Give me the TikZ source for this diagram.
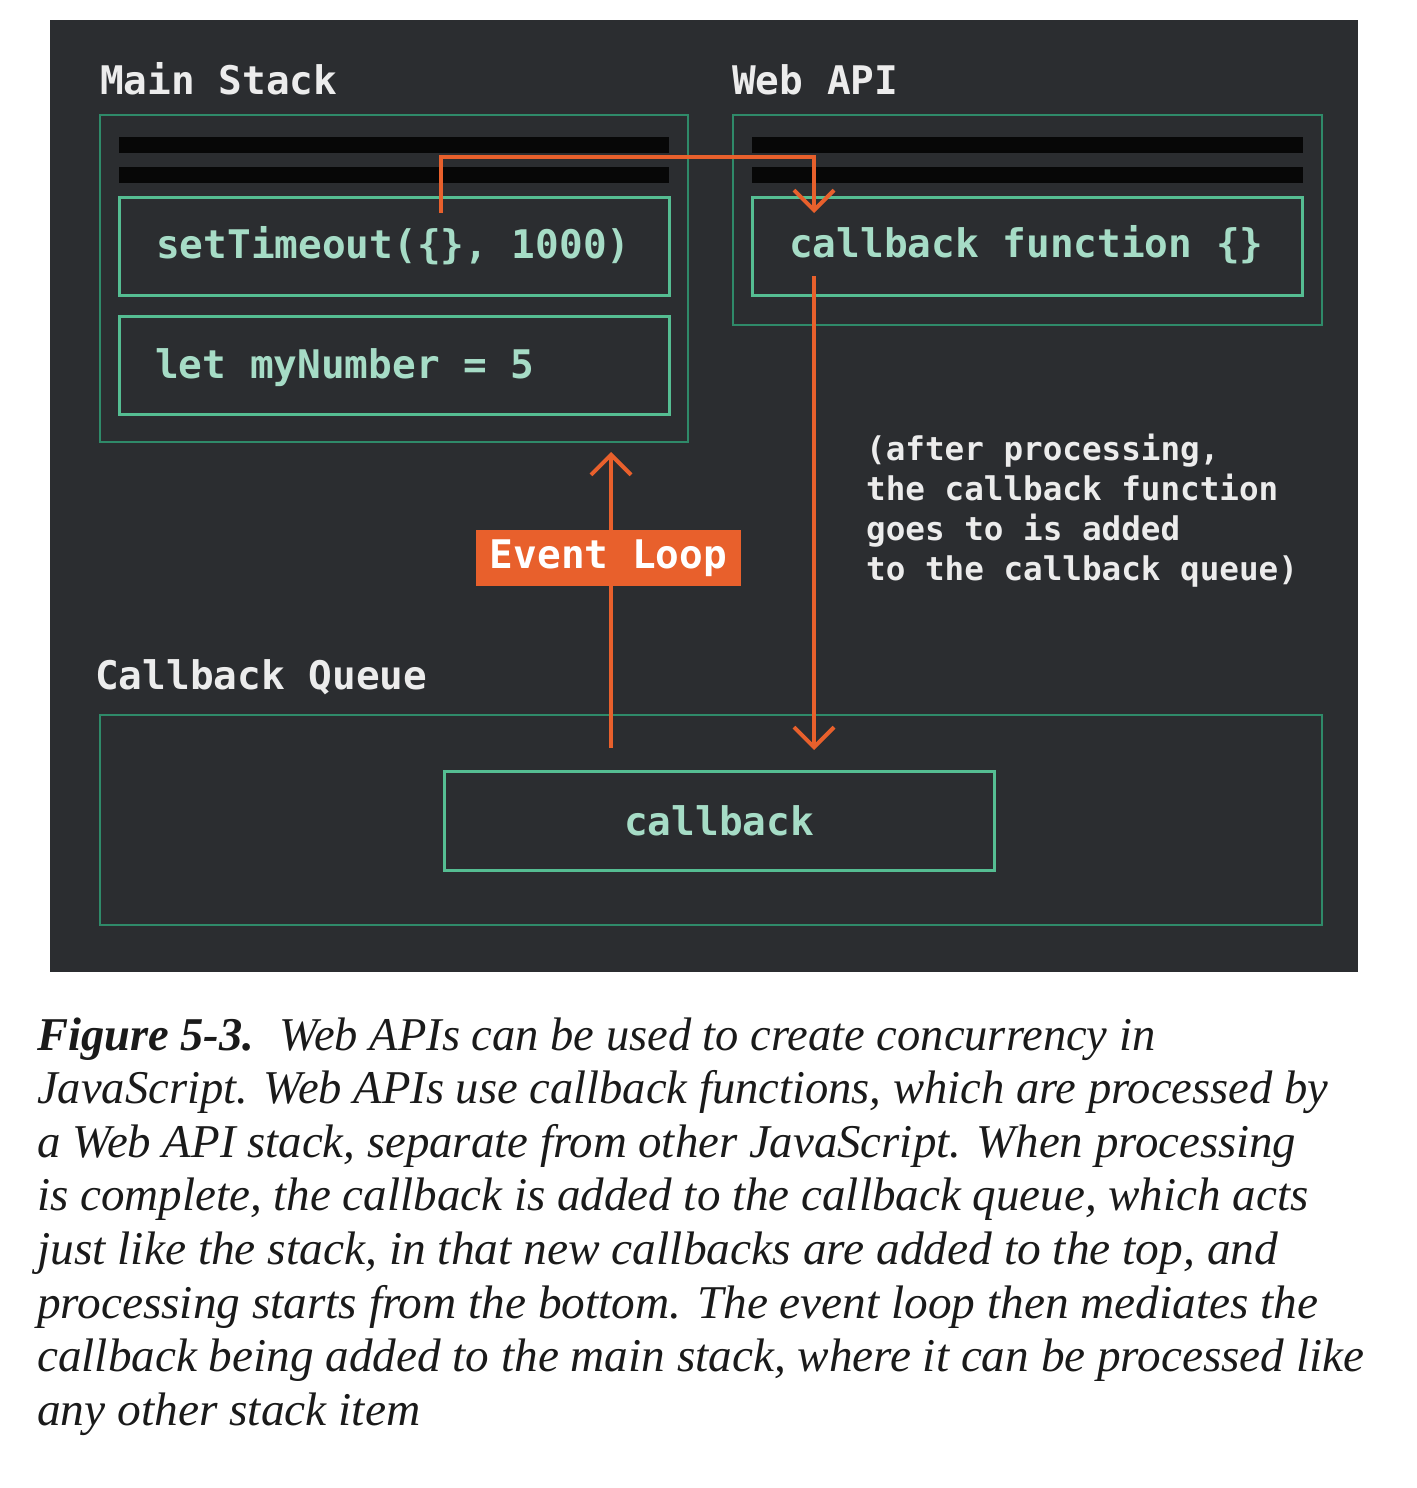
\documentclass[tikz,border=0pt]{standalone}
\usepackage{fontspec}
\setmainfont{Liberation Serif}
\setmonofont{DejaVu Sans Mono}
\usetikzlibrary{arrows.meta}
\definecolor{panel}{HTML}{2B2D30}
\definecolor{outergreen}{HTML}{2F8A69}
\definecolor{innergreen}{HTML}{55BD92}
\definecolor{mint}{HTML}{A6DCC6}
\definecolor{titlewhite}{HTML}{ECECEC}
\definecolor{accent}{HTML}{E8602C}
\definecolor{barblack}{HTML}{070707}
\definecolor{captionink}{HTML}{1A1A1A}
\tikzset{
  outerbox/.style={draw=outergreen, line width=2.5pt, inner sep=0pt, rectangle},
  innerbox/.style={draw=innergreen, line width=3pt, inner sep=0pt, rectangle},
  codetext/.style={font=\ttfamily\bfseries\fontsize{39.4}{47}\selectfont, text=mint, inner sep=0pt, anchor=base west},
  titletext/.style={font=\ttfamily\bfseries\fontsize{39.4}{47}\selectfont, text=titlewhite, inner sep=0pt, anchor=base west},
  notetext/.style={font=\ttfamily\bfseries\fontsize{32.6}{40}\selectfont, text=titlewhite, inner sep=0pt, anchor=base west},
  flow/.style={draw=accent, line width=4pt},
  flowarrow/.style={flow, -{Straight Barb[length=20pt,width=40pt]}},
  loopbox/.style={fill=accent, inner sep=0pt, text=white, font=\ttfamily\bfseries\fontsize{39.4}{47}\selectfont},
  captext/.style={font=\itshape\fontsize{47}{53.6}\selectfont, text=captionink, inner sep=0pt, anchor=base west},
}
\newcommand{\capfit}[2]{\resizebox{#1pt}{\height}{#2}}
\begin{document}
\begin{tikzpicture}[x=1pt,y=-1pt]
\useasboundingbox (0,0) rectangle (1416,1488);
\fill[white] (0,0) rectangle (1416,1488);
\fill[panel] (50,20) rectangle (1358,972);

% titles
\node[titletext] (tms) at (100,94) {Main Stack};
\node[titletext] (twa) at (732,94) {Web API};
\node[titletext] (tcq) at (95,689) {Callback Queue};

% main stack
\node[outerbox, minimum width=588pt, minimum height=327pt] (ms) at (394,278.5) {};
\fill[barblack] (119,137) rectangle (669,153);
\fill[barblack] (119,167) rectangle (669,183);
\node[innerbox, minimum width=550pt, minimum height=98pt] (st) at (394,246) {};
\node[innerbox, minimum width=550pt, minimum height=98pt] (lt) at (394,365) {};
\node[codetext] (sttext) at (156,258) {setTimeout(\{\}, 1000)};
\node[codetext] (lttext) at (155,378) {let myNumber = 5};

% web api
\node[outerbox, minimum width=589pt, minimum height=210pt] (wa) at (1027.5,220) {};
\fill[barblack] (752,137) rectangle (1303,153);
\fill[barblack] (752,167) rectangle (1303,183);
\node[innerbox, minimum width=550pt, minimum height=98pt] (cf) at (1027,246) {};
\node[codetext] (cftext) at (789,257) {callback function \{\}};

% callback queue
\node[outerbox, minimum width=1222pt, minimum height=210pt] (cq) at (711,820) {};
\node[innerbox, minimum width=550pt, minimum height=99pt, text=mint, font=\ttfamily\bfseries\fontsize{39.4}{47}\selectfont] (cb) at (719,820.5) {callback};

% connectors
\coordinate (stout) at (441,213);
\coordinate (cfin) at (814,213);
\coordinate (cfout) at (814,276);
\coordinate (cqin) at (814,750);
\coordinate (cqout) at (611,748);
\coordinate (msin) at (611,452);
\draw[flowarrow] (stout) -- ++(0,-56) -| (cfin);
\draw[flowarrow] (cfout) -- (cqin);
\draw[flowarrow] (cqout) -- (msin);
\node[loopbox, minimum width=265pt, minimum height=56pt] (el) at (608.5,558) {Event Loop};

% note
\node[notetext] (n1) at (866,460) {(after processing,};
\node[notetext] (n2) at (866,500) {the callback function};
\node[notetext] (n3) at (866,540) {goes to is added};
\node[notetext] (n4) at (866,580) {to the callback queue)};

% caption
\node[captext] (c1) at (37,1050) {\capfit{1118}{\textbf{Figure 5-3.}\hspace{0.55em}Web APIs can be used to create concurrency in}};
\node[captext] (c2) at (37,1103.6) {\capfit{1291}{JavaScript. Web APIs use callback functions, which are processed by}};
\node[captext] (c3) at (37,1157.2) {\capfit{1259}{a Web API stack, separate from other JavaScript. When processing}};
\node[captext] (c4) at (37,1210.8) {\capfit{1271}{is complete, the callback is added to the callback queue, which acts}};
\node[captext] (c5) at (37,1264.4) {\capfit{1241}{just like the stack, in that new callbacks are added to the top, and}};
\node[captext] (c6) at (37,1318) {\capfit{1281}{processing starts from the bottom. The event loop then mediates the}};
\node[captext] (c7) at (37,1371.6) {\capfit{1327}{callback being added to the main stack, where it can be processed like}};
\node[captext] (c8) at (37,1425.2) {\capfit{383}{any other stack item}};
\end{tikzpicture}
\end{document}
